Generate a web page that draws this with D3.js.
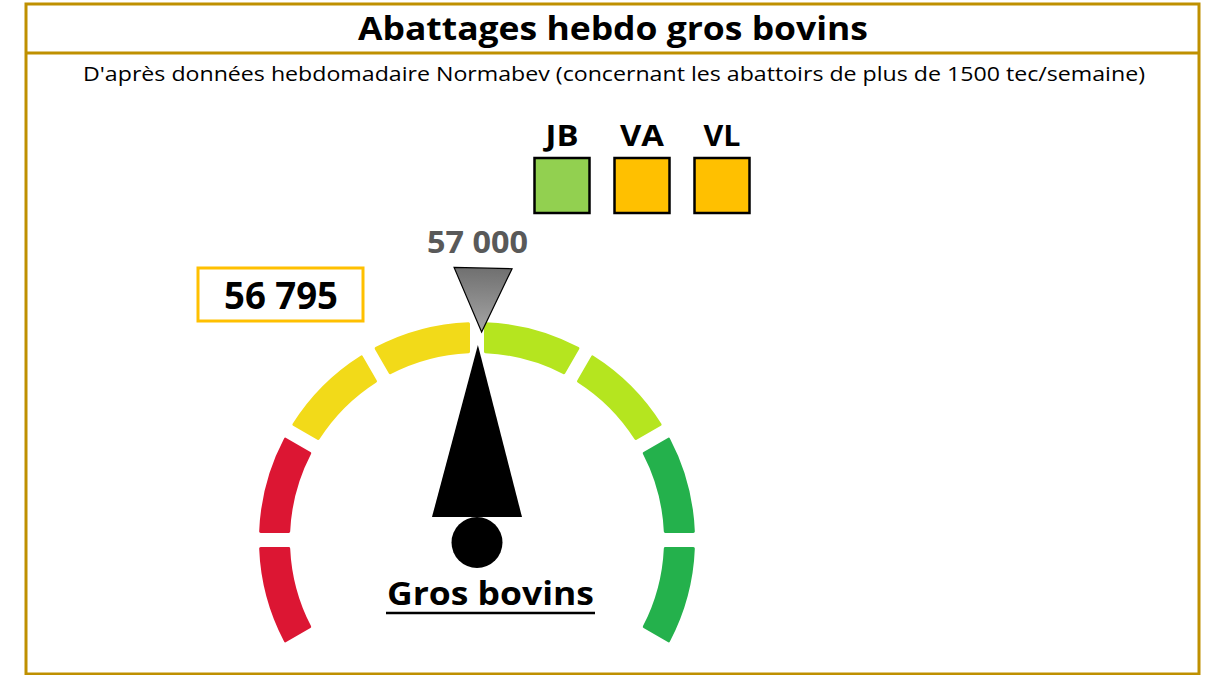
<!DOCTYPE html>
<html>
<head>
<meta charset="utf-8">
<script src="https://cdn.jsdelivr.net/npm/d3@7"></script>
<style>
  html, body { margin: 0; padding: 0; background: #ffffff; }
  svg { display: block; }
  text { font-family: "Open Sans", Lato, "Noto Sans", sans-serif; }
</style>
</head>
<body>
<svg id="chart" width="1208" height="675"></svg>
<script>
// ---------------- data ----------------
const title = "Abattages hebdo gros bovins";
const subtitle = "D'après données hebdomadaire Normabev (concernant les abattoirs de plus de 1500 tec/semaine)";
const gaugeLabel = "Gros bovins";
const currentValue = 56795;
const targetValue = 57000;
const gaugeRange = [38000, 75600];
const segmentColors = ["#DC1633", "#DC1633", "#F2DA19", "#F2DA19", "#B5E51F", "#B5E51F", "#24B14C", "#24B14C"];
const legendCategories = ["JB", "VA", "VL"];
const legendColors = ["#92D050", "#FFC000", "#FFC000"];

const fmt = v => d3.format(",")(v).replace(/,/g, " ");

// ---------------- layout ----------------
const svg = d3.select("#chart");
const frameColor = "#BF9000";

// frame
svg.append("rect").attr("x", 26).attr("y", 4).attr("width", 1173).attr("height", 670)
  .attr("fill", "#fff").attr("stroke", frameColor).attr("stroke-width", 3);
svg.append("line").attr("x1", 26).attr("x2", 1199).attr("y1", 53).attr("y2", 53)
  .attr("stroke", frameColor).attr("stroke-width", 3);

// title + subtitle
svg.append("text").attr("x", 613).attr("y", 40).attr("text-anchor", "middle")
  .attr("font-size", 33).attr("font-weight", 700).attr("fill", "#000")
  .attr("textLength", 510).attr("lengthAdjust", "spacingAndGlyphs").text(title);
svg.append("text").attr("x", 614).attr("y", 81).attr("text-anchor", "middle")
  .attr("font-size", 19.5).attr("fill", "#000")
  .attr("textLength", 1062).attr("lengthAdjust", "spacingAndGlyphs").text(subtitle);

// legend squares
const lx = d3.scalePoint().domain(legendCategories).range([562, 722]);
const legendW = { JB: 33, VA: 44, VL: 37 };
const legendG = svg.append("g");
legendCategories.forEach((c, i) => {
  legendG.append("rect").attr("x", lx(c) - 27.5).attr("y", 158).attr("width", 55).attr("height", 55)
    .attr("fill", legendColors[i]).attr("stroke", "#000").attr("stroke-width", 2.5);
  legendG.append("text").attr("x", lx(c)).attr("y", 146).attr("text-anchor", "middle")
    .attr("font-size", 29).attr("font-weight", 700).attr("fill", "#000")
    .attr("textLength", legendW[c]).attr("lengthAdjust", "spacingAndGlyphs").text(c);
});

// gauge
const cx = 477, cy = 540, rIn = 187, rOut = 218;
const g = svg.append("g").attr("transform", `translate(${cx},${cy})`);
const deg = Math.PI / 180;
const segScale = d3.scaleLinear().domain([0, segmentColors.length]).range([-120 * deg, 120 * deg]);
const valScale = d3.scaleLinear().domain(gaugeRange).range([-120 * deg, 120 * deg]);

const arc = d3.arc().innerRadius(rIn).outerRadius(rOut)
  .padAngle(14 / 202).padRadius(202).cornerRadius(1.5);
g.selectAll("path.seg").data(segmentColors).join("path").attr("class", "seg")
  .attr("d", (d, i) => arc({ startAngle: segScale(i), endAngle: segScale(i + 1) }))
  .attr("fill", d => d);

// target marker
const ta = valScale(targetValue);
const tipR = 208, baseR = 272, halfW = 29;
const tgtG = g.append("g").attr("transform", `rotate(${ta / deg})`);
const defs = svg.append("defs");
const grad = defs.append("linearGradient").attr("id", "tgrad").attr("x1", 0).attr("y1", 0).attr("x2", 0).attr("y2", 1);
grad.append("stop").attr("offset", "0%").attr("stop-color", "#707070");
grad.append("stop").attr("offset", "100%").attr("stop-color", "#a6a6a6");
tgtG.append("path").attr("d", `M${-halfW},${-baseR}L${halfW},${-baseR}L0,${-tipR}Z`)
  .attr("fill", "url(#tgrad)").attr("stroke", "#000").attr("stroke-width", 1.2).attr("stroke-linejoin", "miter");
svg.append("text").attr("x", 477.5).attr("y", 253).attr("text-anchor", "middle")
  .attr("font-size", 30).attr("font-weight", 700).attr("fill", "#595959")
  .attr("textLength", 101).attr("lengthAdjust", "spacingAndGlyphs").text(fmt(targetValue));

// needle
const na = valScale(currentValue);
const needleG = g.append("g").attr("transform", `rotate(${na / deg})`);
needleG.append("path").attr("d", `M-45,-23L45,-23L1,-195Z`).attr("fill", "#000");
g.append("circle").attr("cx", 0).attr("cy", 2.5).attr("r", 25.5).attr("fill", "#000");

// gauge label (underlined)
svg.append("text").attr("x", 490.5).attr("y", 605).attr("text-anchor", "middle")
  .attr("font-size", 33).attr("font-weight", 700).attr("fill", "#000")
  .attr("textLength", 207).attr("lengthAdjust", "spacingAndGlyphs").text(gaugeLabel);
svg.append("line").attr("x1", 386).attr("x2", 595).attr("y1", 613).attr("y2", 613)
  .attr("stroke", "#000").attr("stroke-width", 2.5);

// value box
svg.append("rect").attr("x", 198).attr("y", 268).attr("width", 165).attr("height", 53)
  .attr("fill", "#fff").attr("stroke", "#FFC000").attr("stroke-width", 3);
svg.append("text").attr("x", 281).attr("y", 309).attr("text-anchor", "middle")
  .attr("font-size", 37).attr("font-weight", 700).attr("fill", "#000")
  .attr("textLength", 114).attr("lengthAdjust", "spacingAndGlyphs").text(fmt(currentValue));
</script>
</body>
</html>
